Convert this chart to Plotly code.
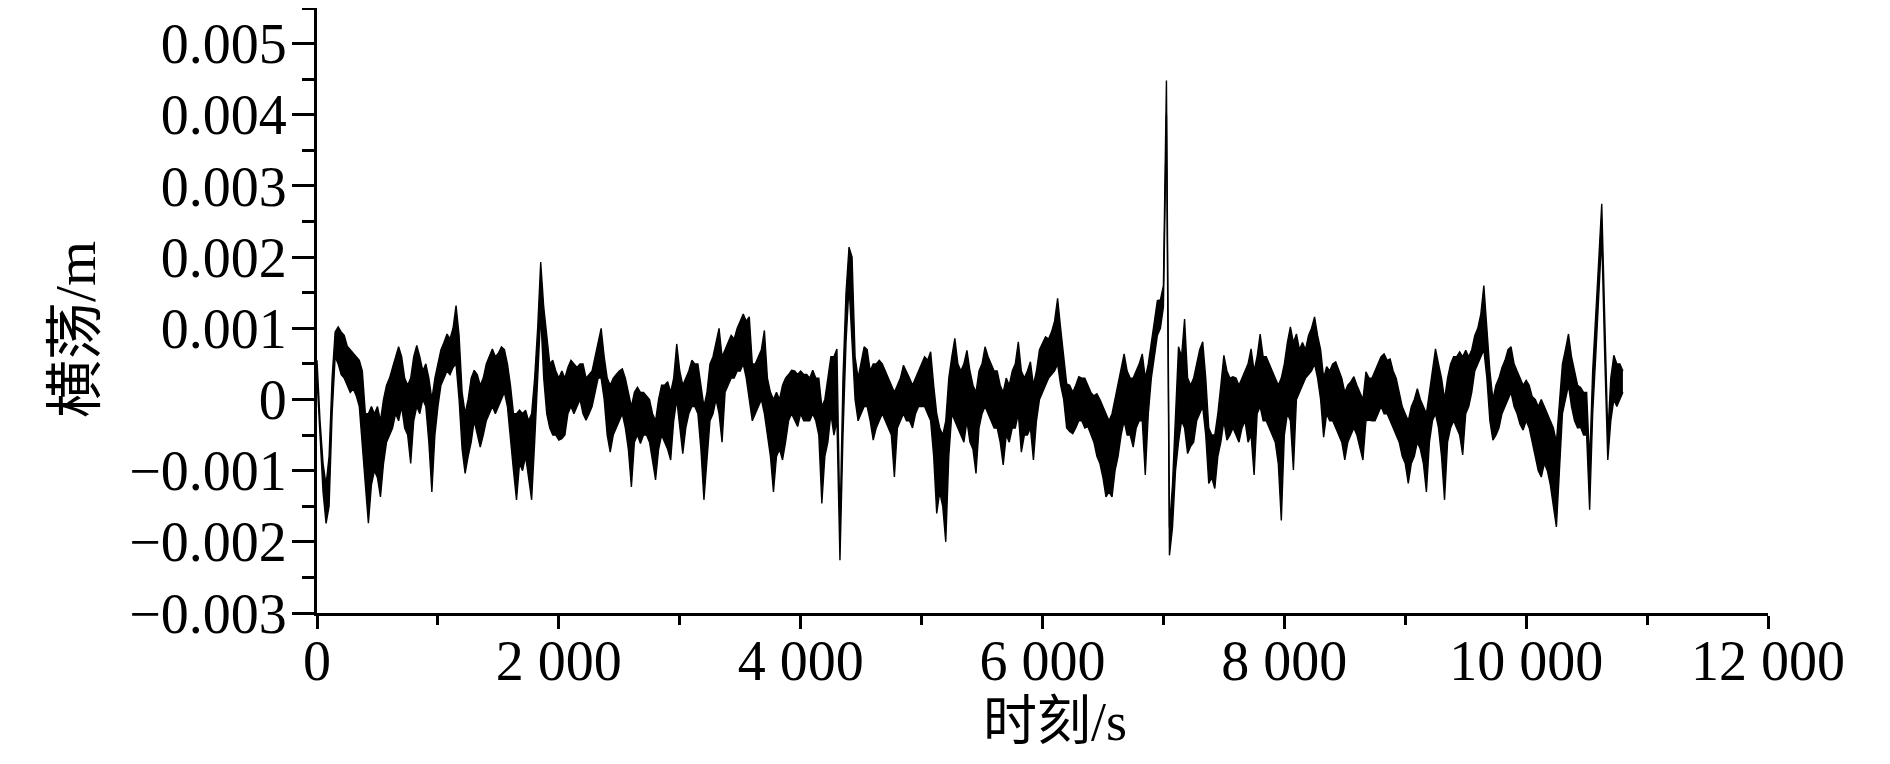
import numpy as np
import plotly.graph_objects as go

# sampling step of the record (s)
dt = 25

# the record is very dense, so it is read as the top and bottom edge of the
# dark trace at each sample, in units of 0.001 m, one row per 500 s
band_top = [
    0.55, -0.3, -0.9, -1.2, -0.8, 0.3, 0.95, 1.02, 0.95, 0.9, 0.75, 0.7, 0.65, 0.6, 0.55, 0.4, -0.2, -0.2, -0.1, -0.2,  # 0
    -0.1, -0.3, 0.0, 0.2, 0.3, 0.45, 0.6, 0.74, 0.6, 0.3, 0.2, 0.3, 0.6, 0.76, 0.6, 0.4, 0.5, 0.3, 0.0, 0.3,  # 500
    0.5, 0.7, 0.8, 0.92, 0.85, 1.0, 1.32, 0.9, 0.1, -0.2, 0.0, 0.3, 0.41, 0.35, 0.2, 0.3, 0.5, 0.6, 0.71, 0.6,  # 1000
    0.65, 0.74, 0.7, 0.5, 0.2, -0.2, -0.2, -0.15, -0.2, -0.15, -0.3, -0.2, 0.3, 1.0, 1.93, 1.3, 0.9, 0.5, 0.55, 0.4,  # 1500
    0.3, 0.4, 0.3, 0.45, 0.55, 0.5, 0.45, 0.5, 0.5, 0.3, 0.35, 0.4, 0.6, 0.8, 1.0, 0.6, 0.3, 0.2, 0.3, 0.35,  # 2000
    0.4, 0.43, 0.3, 0.1, -0.1, 0.1, 0.17, 0.1, 0.1, 0.05, 0.0, -0.2, -0.3, 0.0, 0.2, 0.2, 0.25, 0.1, 0.3, 0.78,  # 2500
    0.4, 0.2, 0.3, 0.4, 0.55, 0.5, 0.5, 0.2, -0.1, 0.1, 0.5, 0.6, 0.8, 1.0, 0.6, 0.7, 0.8, 0.9, 0.85, 1.0,  # 3000
    1.1, 1.2, 1.1, 1.16, 0.5, 0.5, 0.6, 0.7, 0.97, 0.3, 0.1, 0.0, 0.1, 0.0, 0.2, 0.3, 0.35, 0.41, 0.4, 0.35,  # 3500
    0.4, 0.35, 0.35, 0.3, 0.41, 0.3, 0.3, -0.1, 0.0, 0.3, 0.6, 0.6, 0.71, -1.8, 0.3, 1.5, 2.14, 2.0, 0.6, 0.3,  # 4000
    0.5, 0.74, 0.7, 0.4, 0.5, 0.5, 0.55, 0.5, 0.4, 0.3, 0.2, 0.1, 0.2, 0.3, 0.48, 0.4, 0.3, 0.2, 0.3, 0.4,  # 4500
    0.5, 0.6, 0.55, 0.67, 0.2, -0.2, -0.4, -0.5, -0.3, 0.3, 0.6, 0.86, 0.5, 0.4, 0.5, 0.69, 0.4, 0.2, 0.1, 0.4,  # 5000
    0.5, 0.74, 0.6, 0.5, 0.4, 0.4, 0.2, 0.1, 0.3, 0.2, 0.4, 0.5, 0.81, 0.4, 0.3, 0.4, 0.53, 0.2, 0.4, 0.7,  # 5500
    0.8, 0.88, 0.85, 0.95, 1.1, 1.42, 1.0, 0.6, 0.22, 0.2, 0.1, 0.2, 0.32, 0.3, 0.3, 0.2, 0.1, 0.05, 0.08, 0.0,  # 6000
    -0.1, -0.2, -0.3, -0.2, 0.0, 0.2, 0.4, 0.64, 0.4, 0.3, 0.3, 0.4, 0.5, 0.64, 0.3, 0.5, 0.8, 1.1, 1.39, 1.4,  # 6500
    1.6, 4.48, -1.8, -1.2, -0.3, 0.74, 0.6, 1.13, 0.3, 0.2, 0.3, 0.5, 0.7, 0.81, 0.3, -0.4, -0.5, -0.5, -0.2, 0.2,  # 7000
    0.62, 0.4, 0.3, 0.32, 0.3, 0.2, 0.3, 0.4, 0.5, 0.71, 0.4, 0.6, 0.92, 0.6, 0.6, 0.5, 0.4, 0.3, 0.2, 0.3,  # 7500
    0.5, 0.8, 1.02, 0.8, 0.92, 0.7, 0.8, 0.7, 0.9, 1.0, 1.16, 0.9, 0.7, 0.3, 0.46, 0.4, 0.5, 0.53, 0.4, 0.3,  # 8000
    0.1, 0.2, 0.25, 0.32, 0.2, 0.1, 0.0, 0.39, 0.3, 0.3, 0.4, 0.5, 0.6, 0.64, 0.55, 0.57, 0.4, 0.3, 0.1, -0.1,  # 8500
    -0.2, -0.3, -0.1, 0.0, 0.15, 0.0, -0.1, -0.2, 0.1, 0.4, 0.71, 0.5, 0.3, 0.0, 0.3, 0.5, 0.6, 0.6, 0.67, 0.6,  # 9000
    0.69, 0.6, 0.7, 0.9, 1.0, 1.2, 1.60, 1.0, 0.4, 0.0, 0.2, 0.3, 0.45, 0.55, 0.7, 0.74, 0.5, 0.4, 0.3, 0.2,  # 9500
    0.27, 0.2, 0.04, 0.0, -0.1, 0.0, -0.1, -0.2, -0.3, -0.4, -0.6, 0.0, 0.5, 0.7, 0.92, 0.6, 0.4, 0.2, 0.17, 0.1,  # 10000
    0.1, -0.9, 0.4, 1.1, 1.95, 2.75, 1.2, -0.5, 0.3, 0.62, 0.5, 0.5, 0.4,  # 10500
]

band_bottom = [
    0.3, -0.6, -1.3, -1.74, -1.5, -0.2, 0.6, 0.5, 0.35, 0.3, 0.2, 0.1, 0.15, 0.05, -0.1, -0.6, -1.2, -1.74, -1.2, -1.0,  # 0
    -1.1, -1.37, -0.9, -0.6, -0.5, -0.4, -0.2, -0.3, -0.1, -0.4, -0.5, -0.9, -0.3, -0.1, -0.2, 0.0, -0.1, -0.6, -1.3, -0.5,  # 500
    -0.1, 0.2, 0.3, 0.4, 0.35, 0.45, 0.5, 0.0, -0.7, -1.04, -0.8, -0.6, -0.3, -0.5, -0.67, -0.5, -0.3, -0.2, -0.1, -0.2,  # 1000
    -0.1, 0.0, 0.1, -0.1, -0.6, -1.0, -1.41, -0.9, -1.0, -0.8, -1.1, -1.41, -0.6, 0.2, 1.2, 0.3, -0.2, -0.4, -0.5, -0.5,  # 1500
    -0.57, -0.55, -0.5, -0.2, -0.1, -0.2, -0.1, 0.0, -0.2, -0.29, -0.2, -0.1, 0.1, 0.3, 0.3, 0.0, -0.5, -0.74, -0.5, -0.4,  # 2000
    -0.3, -0.2, -0.4, -0.7, -1.23, -0.6, -0.5, -0.62, -0.5, -0.5, -0.6, -0.9, -1.13, -0.7, -0.5, -0.6, -0.7, -0.85, -0.3, 0.0,  # 2500
    -0.4, -0.76, -0.4, -0.2, -0.1, -0.1, -0.2, -0.7, -1.41, -0.9, -0.3, -0.2, 0.0, -0.2, -0.6, 0.1, 0.2, 0.3, 0.3, 0.4,  # 3000
    0.4, 0.5, 0.3, 0.0, -0.3, -0.2, -0.1, 0.0, -0.2, -0.53, -0.8, -1.30, -0.8, -0.7, -0.85, -0.6, -0.3, -0.2, -0.3, -0.38,  # 3500
    -0.2, -0.3, -0.3, -0.3, -0.2, -0.3, -0.5, -1.46, -0.8, -0.6, -0.2, -0.5, -0.3, -2.26, -0.5, 0.8, 1.6, 0.8, 0.0, -0.3,  # 4000
    -0.2, -0.1, -0.1, -0.3, -0.57, -0.4, -0.3, -0.2, -0.3, -0.4, -0.5, -1.09, -0.4, -0.3, -0.2, -0.3, -0.3, -0.4, -0.2, -0.1,  # 4500
    -0.1, -0.1, -0.2, -0.3, -0.8, -1.6, -1.3, -1.5, -2.0, -0.8, -0.2, -0.3, -0.4, -0.5, -0.6, -0.3, -0.6, -0.7, -1.04, -0.4,  # 5000
    -0.2, -0.1, -0.2, -0.3, -0.4, -0.4, -0.6, -0.92, -0.5, -0.6, -0.4, -0.4, -0.2, -0.74, -0.5, -0.5, -0.4, -0.85, -0.3, 0.0,  # 5500
    0.1, 0.2, 0.3, 0.35, 0.4, 0.5, 0.2, 0.0, -0.4, -0.45, -0.48, -0.4, -0.3, -0.3, -0.4, -0.38, -0.5, -0.6, -0.8, -0.9,  # 6000
    -1.1, -1.37, -1.3, -1.37, -1.0, -0.8, -0.5, -0.3, -0.5, -0.5, -0.67, -0.4, -0.3, -0.3, -1.06, -0.2, 0.3, 0.6, 0.9, 1.0,  # 6500
    1.3, 4.0, -2.19, -1.8, -1.0, -0.6, -0.3, -0.4, -0.76, -0.66, -0.6, -0.3, -0.2, -0.1, -0.5, -1.18, -1.1, -1.25, -0.8, -0.6,  # 7000
    -0.3, -0.57, -0.5, -0.4, -0.5, -0.6, -0.4, -0.3, -0.6, -0.5, -1.06, -0.2, -0.1, -0.3, -0.3, -0.4, -0.5, -0.6, -0.9, -1.70,  # 7500
    -0.5, -0.2, -0.3, -0.99, 0.0, 0.1, 0.2, 0.3, 0.35, 0.4, 0.5, 0.3, 0.0, -0.53, -0.2, -0.3, -0.3, -0.4, -0.5, -0.6,  # 8000
    -0.85, -0.6, -0.5, -0.4, -0.5, -0.7, -0.85, -0.3, -0.29, -0.3, -0.3, -0.2, -0.1, -0.2, -0.2, -0.3, -0.4, -0.5, -0.6, -0.8,  # 8500
    -0.9, -1.18, -0.9, -0.8, -0.6, -0.7, -0.9, -1.30, -0.6, -0.3, -0.2, -0.4, -0.8, -1.41, -0.6, -0.4, -0.3, -0.4, -0.5, -0.78,  # 9000
    -0.2, -0.1, 0.1, 0.4, 0.5, 0.6, 0.7, 0.3, -0.3, -0.57, -0.5, -0.4, -0.2, -0.1, 0.0, 0.1, -0.1, -0.2, -0.35, -0.43,  # 9500
    -0.3, -0.4, -0.6, -0.8, -1.0, -1.09, -0.9, -1.0, -1.2, -1.5, -1.79, -1.0, -0.2, 0.0, 0.2, -0.1, -0.3, -0.4, -0.39, -0.5,  # 10000
    -0.5, -1.55, -0.2, 0.6, 1.5, 2.3, 0.6, -0.85, -0.3, 0.0, -0.1, 0.0, 0.1,  # 10500
]

x_ticks = [0, 2000, 4000, 6000, 8000, 10000, 12000]
x_labels = ["0", "2 000", "4 000", "6 000", "8 000", "10 000", "12 000"]
y_ticks = [-0.003, -0.002, -0.001, 0, 0.001, 0.002, 0.003, 0.004, 0.005]
y_labels = ["\u22120.003", "\u22120.002", "\u22120.001", "0",
            "0.001", "0.002", "0.003", "0.004", "0.005"]

t = np.arange(len(band_top)) * dt
top = np.array(band_top) / 1000.0
bottom = np.array(band_bottom) / 1000.0

serif = "Liberation Serif, Times New Roman, Noto Sans CJK SC, serif"

fig = go.Figure()
fig.add_trace(go.Scatter(x=t, y=bottom, mode="lines",
                         line=dict(color="black", width=1.4),
                         showlegend=False, hoverinfo="skip"))
fig.add_trace(go.Scatter(x=t, y=top, mode="lines", fill="tonexty",
                         fillcolor="black", line=dict(color="black", width=1.4),
                         showlegend=False, hoverinfo="skip"))

axis_common = dict(showgrid=False, zeroline=False, showline=True,
                   linecolor="black", linewidth=3, ticks="outside",
                   tickcolor="black", tickwidth=2.5,
                   tickfont=dict(family=serif, size=56, color="black"))

fig.update_xaxes(range=[0, 12000], tickmode="array", tickvals=x_ticks,
                 ticktext=x_labels, ticklen=13, ticklabelstandoff=-16,
                 minor=dict(tickmode="linear", tick0=0, dtick=1000, ticklen=9,
                            tickwidth=2.5, tickcolor="black", ticks="outside"),
                 **axis_common)
fig.update_yaxes(range=[-0.003, 0.0055], tickmode="array", tickvals=y_ticks,
                 ticktext=y_labels, ticklen=22, ticklabelstandoff=-6,
                 minor=dict(tickmode="linear", tick0=0, dtick=0.0005, ticklen=12,
                            tickwidth=2.5, tickcolor="black", ticks="outside"),
                 **axis_common)

fig.add_annotation(text="时刻/s", xref="paper", yref="paper", x=0.5086, y=-0.18,
                   xanchor="center", yanchor="middle", showarrow=False,
                   font=dict(family=serif, size=54, color="black"))
fig.add_annotation(text="横荡/m", xref="paper", yref="paper", x=-0.166, y=0.468,
                   xanchor="center", yanchor="middle", showarrow=False, textangle=-90,
                   font=dict(family=serif, size=58, color="black"))

# the page body adds an 8 px margin, so the figure is drawn 16 px smaller
fig.update_layout(width=1874, height=748, plot_bgcolor="white", paper_bgcolor="white",
                  margin=dict(l=309, r=114, t=0, b=143, autoexpand=False))

fig.write_html("out.html")
